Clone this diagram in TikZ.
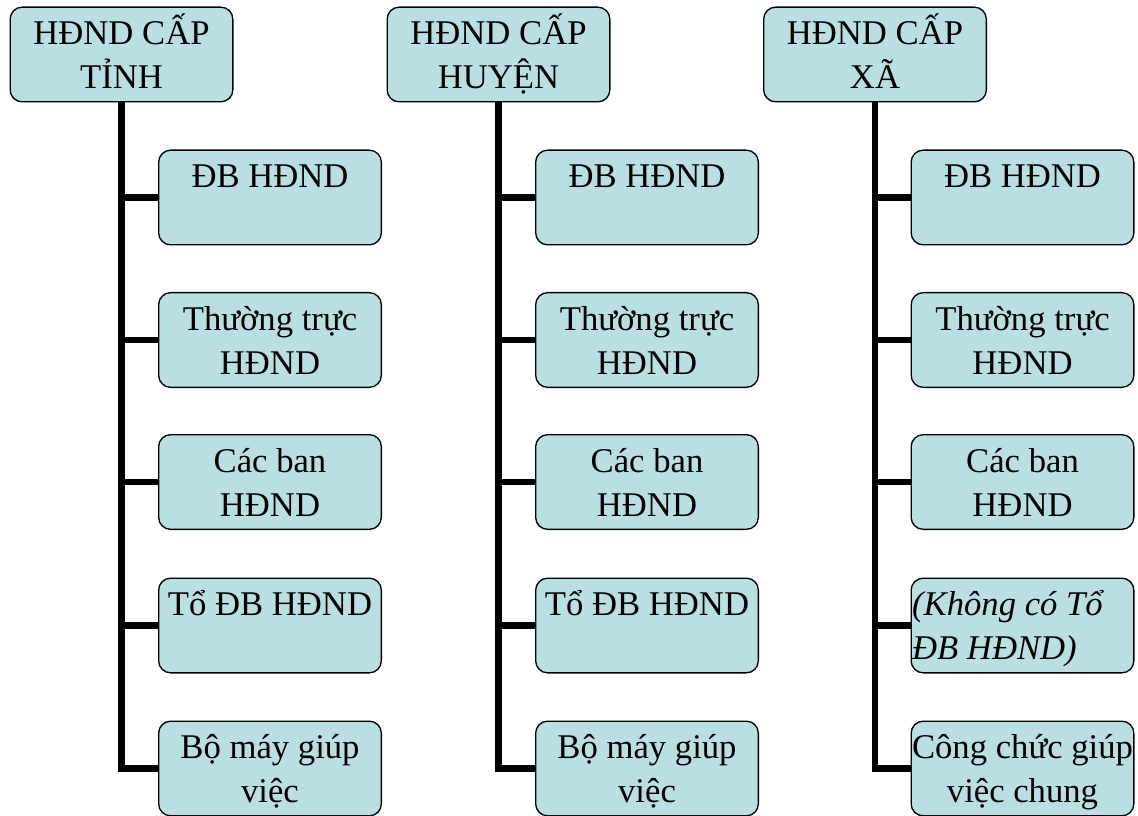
\documentclass[tikz,border=0pt]{standalone}
\usepackage{fontspec}
\setmainfont{Liberation Serif}
\definecolor{boxfill}{RGB}{185,223,227}
\tikzset{
  box/.style={draw=black, line width=1pt, fill=boxfill, rounded corners=9pt,
    minimum width=167pt, minimum height=71pt, inner sep=0pt},
  lbl/.style={anchor=north, inner sep=0pt, align=center,
    font=\fontsize{26}{33}\selectfont},
  lbll/.style={anchor=north west, inner sep=0pt, align=left,
    font=\fontsize{26}{33}\selectfont\itshape},
  conn/.style={line width=5pt, line join=miter}
}
\newcommand{\fl}{\rule{0pt}{28.5pt}}
\begin{document}
\begin{tikzpicture}[x=0.75pt,y=-0.75pt]
\useasboundingbox (0,0) rectangle (1138,816);
% column 1
\node[box] (a0) at (121.5,54.5) {};
\node[box] (a1) at (270,197.5) {};
\node[box] (a2) at (270,340) {};
\node[box] (a3) at (270,482) {};
\node[box] (a4) at (270,625.5) {};
\node[box] (a5) at (270,768.5) {};
% column 2
\node[box] (b0) at (498.5,54.5) {};
\node[box] (b1) at (647,197.5) {};
\node[box] (b2) at (647,340) {};
\node[box] (b3) at (647,482) {};
\node[box] (b4) at (647,625.5) {};
\node[box] (b5) at (647,768.5) {};
% column 3
\node[box] (c0) at (875,54.5) {};
\node[box] (c1) at (1022.5,197.5) {};
\node[box] (c2) at (1022.5,340) {};
\node[box] (c3) at (1022.5,482) {};
\node[box] (c4) at (1022.5,625.5) {};
\node[box] (c5) at (1022.5,768.5) {};
% connectors
\foreach \c in {a,b,c}{
  \draw[conn] (\c0.south) |- (\c5.west);
  \foreach \i in {1,2,3,4}{
    \draw[conn] (\c0.south |- \c\i.west) -- (\c\i.west);
  }
}
% labels
\node[lbl] (ta0) at (a0.north) {\fl HĐND CẤP\\TỈNH};
\node[lbl] (ta1) at (a1.north) {\fl ĐB HĐND};
\node[lbl] (ta2) at (a2.north) {\fl Thường trực\\HĐND};
\node[lbl] (ta3) at (a3.north) {\fl Các ban\\HĐND};
\node[lbl] (ta4) at (a4.north) {\fl Tổ ĐB HĐND};
\node[lbl] (ta5) at (a5.north) {\fl Bộ máy giúp\\việc};
\node[lbl] (tb0) at (b0.north) {\fl HĐND CẤP\\HUYỆN};
\node[lbl] (tb1) at (b1.north) {\fl ĐB HĐND};
\node[lbl] (tb2) at (b2.north) {\fl Thường trực\\HĐND};
\node[lbl] (tb3) at (b3.north) {\fl Các ban\\HĐND};
\node[lbl] (tb4) at (b4.north) {\fl Tổ ĐB HĐND};
\node[lbl] (tb5) at (b5.north) {\fl Bộ máy giúp\\việc};
\node[lbl] (tc0) at (c0.north) {\fl HĐND CẤP\\XÃ};
\node[lbl] (tc1) at (c1.north) {\fl ĐB HĐND};
\node[lbl] (tc2) at (c2.north) {\fl Thường trực\\HĐND};
\node[lbl] (tc3) at (c3.north) {\fl Các ban\\HĐND};
\node[lbll] (tc4) at ([xshift=1pt]c4.north west) {\fl (Không có Tổ\\ĐB HĐND)};
\node[lbl] (tc5) at (c5.north) {\fl Công chức giúp\\việc chung};
\end{tikzpicture}
\end{document}
